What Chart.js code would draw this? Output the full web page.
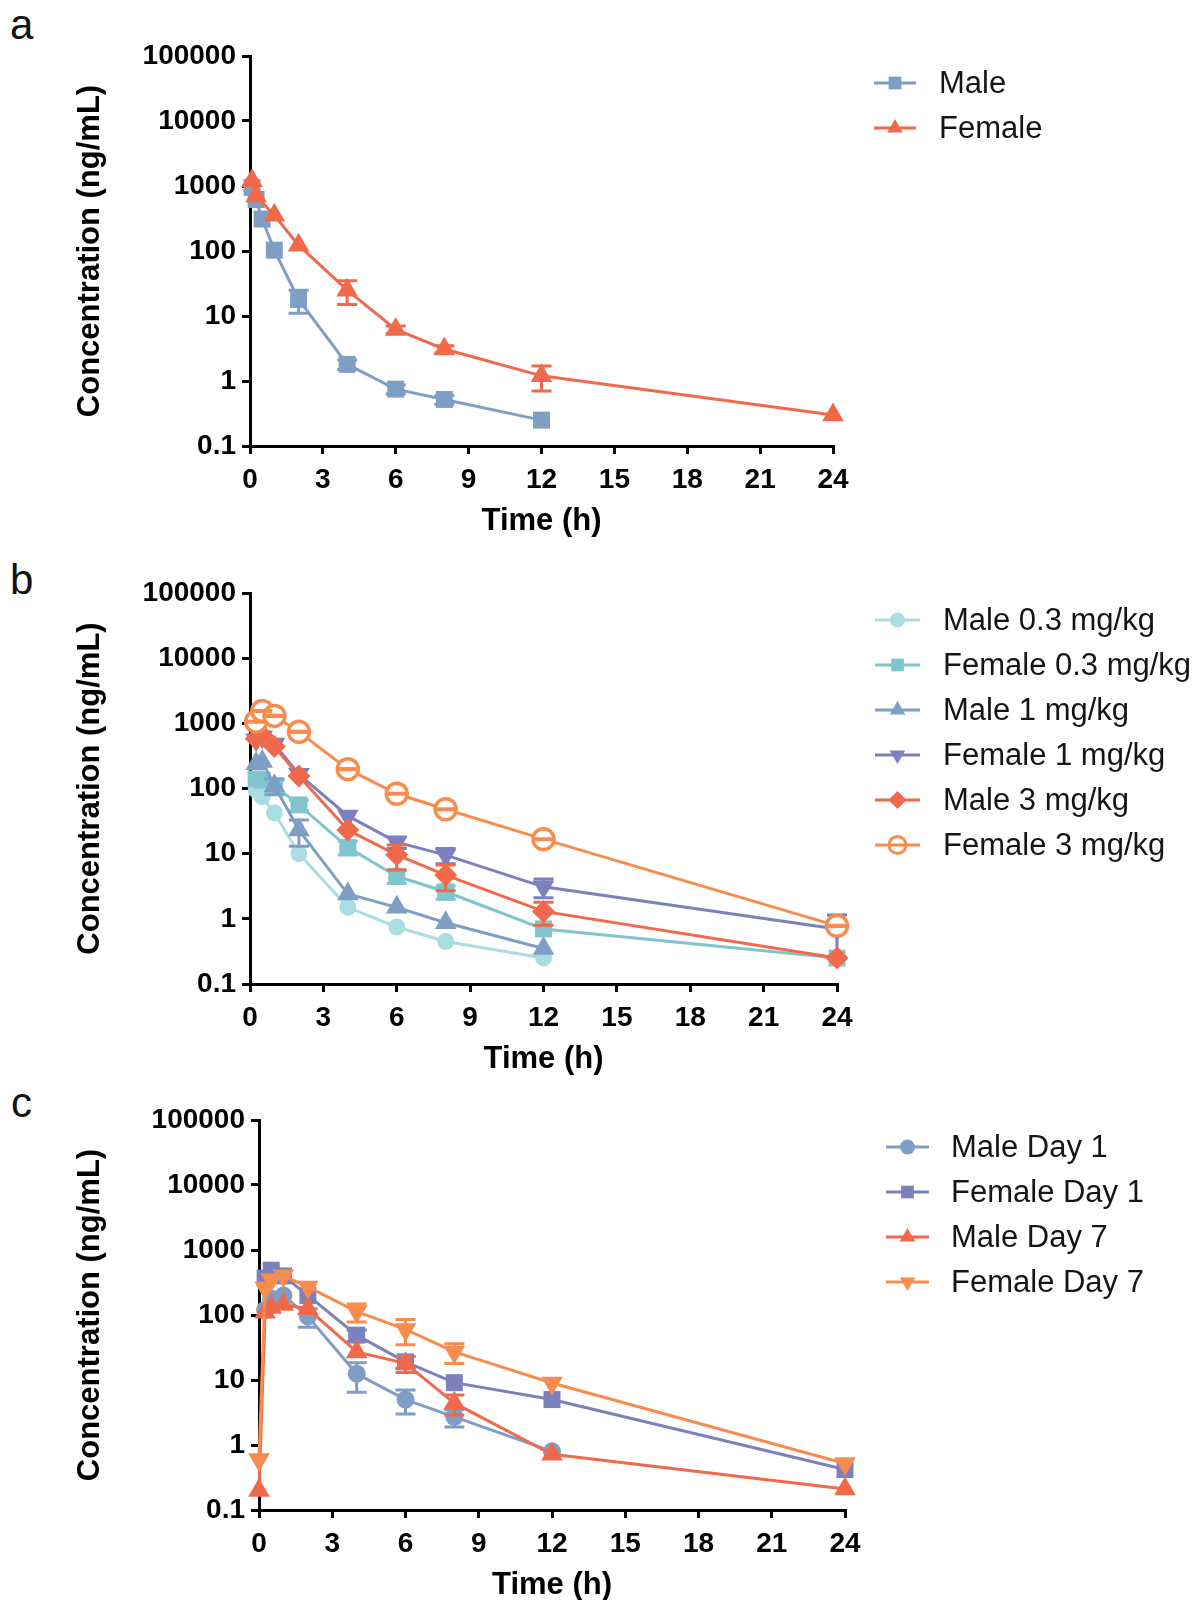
<!DOCTYPE html>
<html>
<head>
<meta charset="utf-8">
<script src="https://cdn.jsdelivr.net/npm/chart.js@4/dist/chart.umd.min.js"></script>
<style>
  html, body { margin: 0; padding: 0; background: #fff; overflow: hidden; }
  body { width: 1199px; height: 1600px; position: relative; font-family: Arial, "Liberation Sans", sans-serif; }
  .panel { position: absolute; left: 0; }
  .letter { position: absolute; font-size: 42px; line-height: 50px; color: #111; font-family: Arial, "Liberation Sans", sans-serif; }
</style>
</head>
<body>
<div class="letter" style="left:10px; top:0px;">a</div>
<div class="letter" style="left:10px; top:555px;">b</div>
<div class="letter" style="left:11px; top:1078px;">c</div>
<canvas id="ca" class="panel" style="top:0px" width="1199" height="540"></canvas>
<canvas id="cb" class="panel" style="top:540px" width="1199" height="538"></canvas>
<canvas id="cc" class="panel" style="top:1078px" width="1199" height="526"></canvas>
<script>
// ---------------- DATA ----------------
const xTickValues = [0, 3, 6, 9, 12, 15, 18, 21, 24];
const yTickValues = [0.1, 1, 10, 100, 1000, 10000, 100000];
const yTickLabels = ['0.1', '1', '10', '100', '1000', '10000', '100000'];
const xTitle = 'Time (h)';
const yTitle = 'Concentration (ng/mL)';

// Panel a
const a_labels = ['Male', 'Female'];
const a_maleTime = [0.083, 0.25, 0.5, 1, 2, 4, 6, 8, 12];
const a_maleConc = [950, 620, 310, 103, 18, 1.8, 0.75, 0.52, 0.25];
const a_maleSD   = [0, 0, 0, 0, 7, 0.3, 0.12, 0.08, 0];
const a_femaleTime = [0.083, 0.25, 1, 2, 4, 6, 8, 12, 24];
const a_femaleConc = [1200, 700, 355, 123, 25, 6.2, 3.1, 1.2, 0.3];
const a_femaleSD   = [0, 0, 0, 0, 10, 0.8, 0.4, 0.5, 0];

// Panel b
const b_labels = ['Male 0.3 mg/kg', 'Female 0.3 mg/kg', 'Male 1 mg/kg', 'Female 1 mg/kg', 'Male 3 mg/kg', 'Female 3 mg/kg'];
const b_time   = [0.25, 0.5, 1, 2, 4, 6, 8, 12, 24];
const b_m03    = [95, 75, 42, 10, 1.5, 0.75, 0.45, 0.25];
const b_m03SD  = [0, 0, 0, 0, 0, 0, 0, 0];
const b_f03    = [140, 135, 110, 56, 12.5, 4.5, 2.6, 0.7, 0.25];
const b_f03SD  = [0, 0, 25, 10, 3, 1, 0.6, 0, 0];
const b_m1     = [240, 260, 110, 23, 2.4, 1.5, 0.87, 0.35];
const b_m1SD   = [0, 0, 30, 10, 0, 0, 0, 0];
const b_f1     = [560, 620, 480, 165, 38, 15, 9.5, 3.1, 0.7];
const b_f1SD   = [0, 0, 0, 0, 0, 3, 2.5, 1, 0.45];
const b_m3     = [580, 650, 440, 155, 23, 9.6, 4.7, 1.3, 0.25];
const b_m3SD   = [0, 0, 0, 0, 0, 4, 2, 0.5, 0];
const b_f3     = [1060, 1550, 1300, 740, 198, 83, 48, 16.7, 0.78];
const b_f3SD   = [20, 30, 25, 15, 4, 1.6, 1, 0.3, 0.015];

// Panel c
const c_labels = ['Male Day 1', 'Female Day 1', 'Male Day 7', 'Female Day 7'];
const c_timeD1   = [0.25, 0.5, 1, 2, 4, 6, 8, 12];
const c_maleD1   = [120, 180, 200, 95, 12.5, 5, 2.7, 0.8];
const c_maleD1SD = [0, 0, 0, 30, 6, 2, 0.8, 0];
const c_timeF1     = [0.25, 0.5, 1, 2, 4, 6, 8, 12, 24];
const c_femaleD1   = [370, 490, 400, 200, 49, 19, 9.1, 5.0, 0.42];
const c_femaleD1SD = [0, 0, 0, 0, 10, 4, 0, 0, 0];
const c_timeD7   = [0, 0.25, 0.5, 1, 2, 4, 6, 8, 12, 24];
const c_maleD7   = [0.2, 110, 130, 145, 125, 27, 18, 4.4, 0.72, 0.21];
const c_maleD7SD = [0, 0, 0, 0, 0, 0, 5, 1.5, 0, 0];
const c_femaleD7   = [0.6, 260, 350, 400, 270, 113, 60, 27, 9, 0.52];
const c_femaleD7SD = [0, 0, 0, 0, 0, 35, 25, 9, 0, 0];

// ---------------- STYLE ----------------
const FONT = 'Arial, "Liberation Sans", sans-serif';
const C_BLUE = '#7F9EC6', C_PURPLE = '#7C80BD', C_RED = '#F0694A', C_ORANGE = '#F88C4E', C_CYAN = '#A9DDE1', C_TEAL = '#80C4CD';

function pts(t, v) { return v.map((y, i) => ({x: t[i], y: y})); }

function ds(label, t, v, sd, color, style, r, rot, hollow) {
  return {
    label: label, data: pts(t, v), err: sd,
    borderColor: color, backgroundColor: color, borderWidth: 3, tension: 0,
    pointStyle: style, pointRadius: r, pointHoverRadius: r, pointRotation: rot || 0,
    pointBackgroundColor: hollow ? '#fff' : color, pointBorderColor: color,
    pointBorderWidth: hollow ? 3.5 : 0, hollow: !!hollow, clip: false
  };
}

function drawMarker(ctx, style, x, y, r, rot, color, hollow) {
  ctx.save();
  ctx.translate(x, y);
  ctx.rotate((rot || 0) * Math.PI / 180);
  ctx.beginPath();
  if (style === 'circle') ctx.arc(0, 0, r, 0, Math.PI * 2);
  else if (style === 'rect') { const s = r * Math.SQRT1_2; ctx.rect(-s, -s, 2 * s, 2 * s); }
  else if (style === 'rectRot') { ctx.moveTo(0, -r); ctx.lineTo(r, 0); ctx.lineTo(0, r); ctx.lineTo(-r, 0); ctx.closePath(); }
  else if (style === 'triangle') {
    for (let k = 0; k < 3; k++) { const a = k * 2 * Math.PI / 3; const px = Math.sin(a) * r, py = -Math.cos(a) * r; if (k === 0) ctx.moveTo(px, py); else ctx.lineTo(px, py); }
    ctx.closePath();
  }
  if (hollow) { ctx.lineWidth = 3; ctx.strokeStyle = color; ctx.stroke(); }
  else { ctx.fillStyle = color; ctx.fill(); }
  ctx.restore();
}

const errorBarPlugin = {
  id: 'errorBars',
  afterDatasetDraw(chart, args) {
    const dset = chart.data.datasets[args.index];
    if (!dset.err) return;
    const ctx = chart.ctx, xs = chart.scales.x, ys = chart.scales.y;
    ctx.save();
    ctx.strokeStyle = dset.borderColor;
    ctx.lineWidth = 3;
    dset.data.forEach((p, i) => {
      const e = dset.err[i];
      if (!e) return;
      const px = xs.getPixelForValue(p.x);
      const hi = ys.getPixelForValue(p.y + e);
      const lowVal = Math.max(p.y - e, ys.min);
      const lo = ys.getPixelForValue(lowVal);
      const cw = 10;
      ctx.beginPath();
      ctx.moveTo(px, hi); ctx.lineTo(px, lo);
      ctx.moveTo(px - cw, hi); ctx.lineTo(px + cw, hi);
      if (p.y - e > ys.min) { ctx.moveTo(px - cw, lo); ctx.lineTo(px + cw, lo); }
      ctx.stroke();
    });
    ctx.restore();
  }
};

const legendPlugin = {
  id: 'sideLegend',
  afterDraw(chart) {
    const o = chart.options.plugins.sideLegend;
    if (!o) return;
    const ctx = chart.ctx;
    chart.data.datasets.forEach((d, i) => {
      const y = o.rows[i];
      ctx.save();
      ctx.strokeStyle = d.borderColor; ctx.lineWidth = 3;
      ctx.beginPath(); ctx.moveTo(o.x0, y); ctx.lineTo(o.x1, y); ctx.stroke();
      const mx = (o.x0 + o.x1) / 2;
      const lr = d.pointStyle === 'circle' ? (d.hollow ? 8.5 : 7.5) : 9;
      drawMarker(ctx, d.pointStyle, mx, y, lr, d.pointRotation, d.borderColor, d.hollow);
      ctx.fillStyle = '#151515';
      ctx.font = '31px ' + FONT;
      ctx.textAlign = 'left'; ctx.textBaseline = 'middle';
      ctx.fillText(d.label, o.textX, y + 1);
      ctx.restore();
    });
  }
};

function makeChart(id, datasets, cfg) {
  datasets.forEach((d, i) => { d.order = datasets.length - i; });
  return new Chart(document.getElementById(id), {
    type: 'line',
    data: { datasets: datasets },
    plugins: [errorBarPlugin, legendPlugin],
    options: {
      responsive: false, animation: false, maintainAspectRatio: false,
      layout: { padding: { left: 0, right: cfg.right, top: cfg.top, bottom: 0 } },
      plugins: {
        legend: { display: false }, tooltip: { enabled: false },
        sideLegend: cfg.legend
      },
      scales: {
        x: {
          type: 'linear', min: 0, max: 24,
          afterBuildTicks: s => { s.ticks = xTickValues.map(v => ({ value: v })); },
          afterFit: s => { s.height = cfg.xh; },
          ticks: { color: '#000', padding: 9, maxRotation: 0, autoSkip: false, font: { family: FONT, size: 28, weight: 'bold' } },
          grid: { drawOnChartArea: false, drawTicks: true, tickLength: 8, lineWidth: 3, color: '#000' },
          border: { display: true, color: '#000', width: 3 },
          title: { display: true, text: xTitle, color: '#000', padding: { top: 0, bottom: 0 }, font: { family: FONT, size: 31, weight: 'bold' } }
        },
        y: {
          type: 'logarithmic', min: 0.1, max: 100000,
          afterBuildTicks: s => { s.ticks = yTickValues.map(v => ({ value: v })); },
          afterFit: s => { s.width = cfg.yw; },
          ticks: { color: '#000', padding: 6, autoSkip: false, font: { family: FONT, size: 28, weight: 'bold' },
                   callback: v => { const k = yTickValues.indexOf(v); return k >= 0 ? yTickLabels[k] : ''; } },
          grid: { drawOnChartArea: false, drawTicks: true, tickLength: 8, lineWidth: 3, color: '#000' },
          border: { display: true, color: '#000', width: 3 },
          title: { display: true, text: yTitle, color: '#000', padding: { top: 72, bottom: 0 }, font: { family: FONT, size: 31, weight: 'bold' } }
        }
      }
    }
  });
}

makeChart('ca', [
  ds(a_labels[0], a_maleTime, a_maleConc, a_maleSD, C_BLUE, 'rect', 12, 0),
  ds(a_labels[1], a_femaleTime, a_femaleConc, a_femaleSD, C_RED, 'triangle', 12.5, 0)
], { top: 56, right: 366, yw: 250, xh: 94, legend: { x0: 874, x1: 916, textX: 939, rows: [83, 128] } });

makeChart('cb', [
  ds(b_labels[0], b_time, b_m03, b_m03SD, C_CYAN, 'circle', 8.5, 0),
  ds(b_labels[1], b_time, b_f03, b_f03SD, C_TEAL, 'rect', 12, 0),
  ds(b_labels[2], b_time, b_m1, b_m1SD, C_BLUE, 'triangle', 12.5, 0),
  ds(b_labels[3], b_time, b_f1, b_f1SD, C_PURPLE, 'triangle', 12.5, 180),
  ds(b_labels[4], b_time, b_m3, b_m3SD, C_RED, 'rectRot', 11.5, 0),
  ds(b_labels[5], b_time, b_f3, b_f3SD, C_ORANGE, 'circle', 10.5, 0, true)
], { top: 53, right: 362, yw: 250, xh: 94, legend: { x0: 875, x1: 920, textX: 943, rows: [80, 125, 170, 215, 260, 305] } });

makeChart('cc', [
  ds(c_labels[0], c_timeD1, c_maleD1, c_maleD1SD, C_BLUE, 'circle', 9, 0),
  ds(c_labels[1], c_timeF1, c_femaleD1, c_femaleD1SD, C_PURPLE, 'rect', 12, 0),
  ds(c_labels[2], c_timeD7, c_maleD7, c_maleD7SD, C_RED, 'triangle', 12.5, 0),
  ds(c_labels[3], c_timeD7, c_femaleD7, c_femaleD7SD, C_ORANGE, 'triangle', 12.5, 180)
], { top: 42, right: 354, yw: 259, xh: 94, legend: { x0: 886, x1: 929, textX: 951, rows: [69, 114, 159, 204] } });
</script>
</body>
</html>
